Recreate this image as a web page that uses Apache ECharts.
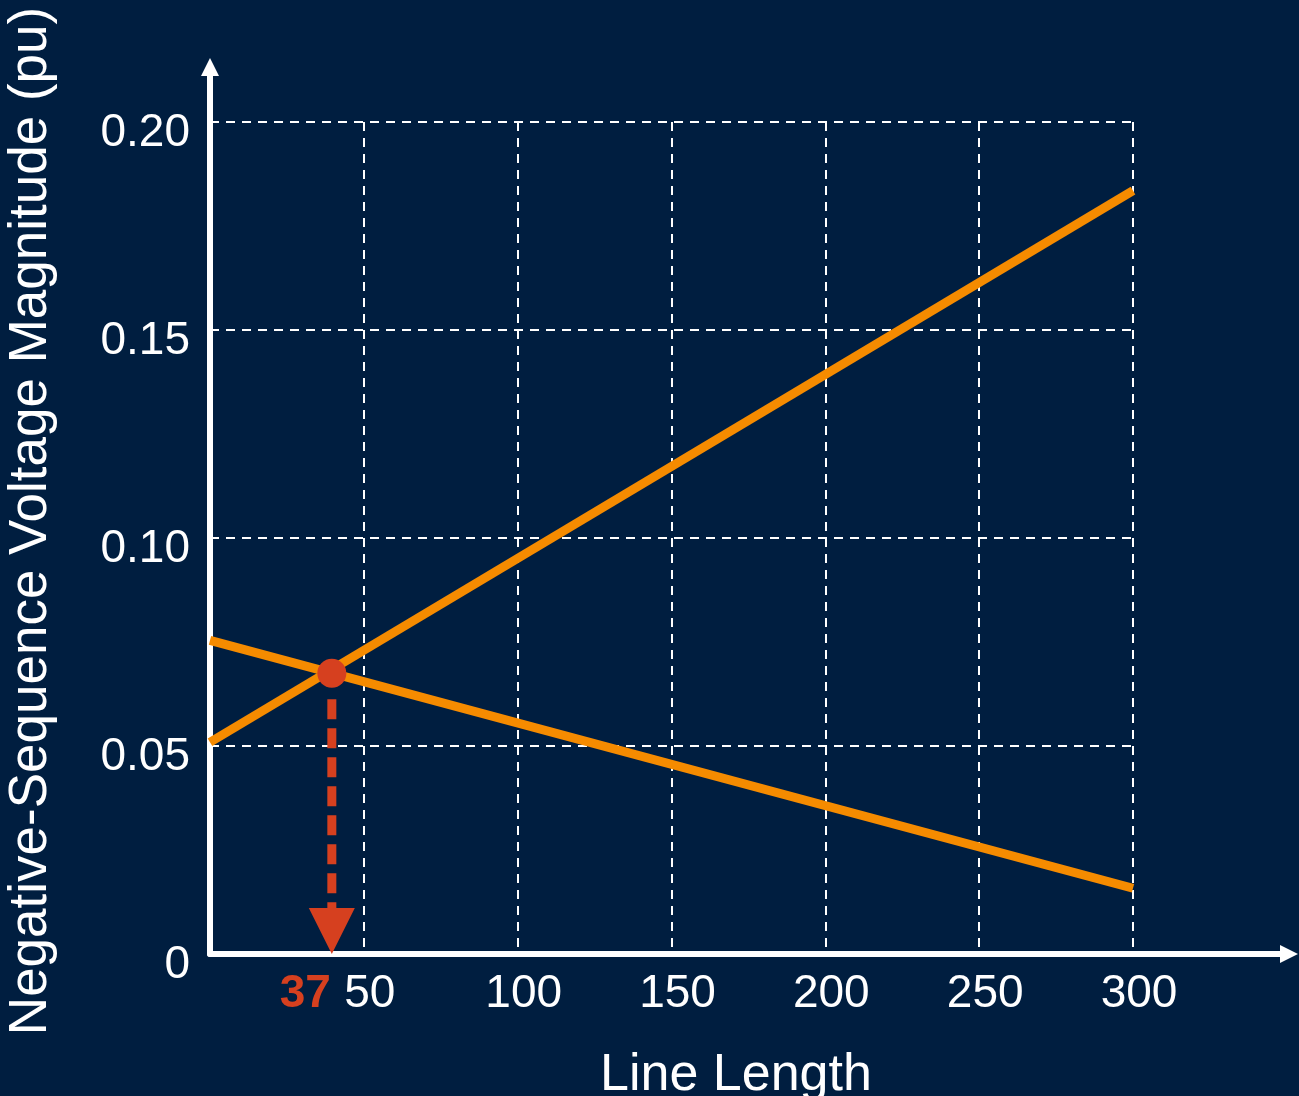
<!DOCTYPE html>
<html>
<head>
<meta charset="utf-8">
<script src="https://cdn.jsdelivr.net/npm/echarts@6/dist/echarts.min.js"></script>
<style>
  html, body { margin: 0; padding: 0; background: #001e40; }
  #chart { width: 1299px; height: 1096px; }
</style>
</head>
<body>
<div id="chart"></div>
<script>
// 数据
const lineLengths = [0, 300];
const risingVoltage = [0.0509, 0.1835];
const fallingVoltage = [0.0754, 0.0158];
const crossPoint = [39.6, 0.0675];
const crossLabel = "37";
const xTicks = [0, 50, 100, 150, 200, 250, 300];
const yTicks = [0, 0.05, 0.1, 0.15, 0.2];

const orange = "#f58b00";
const red = "#d6401f";
const font = "'Liberation Sans', Arial, sans-serif";

const chart = echarts.init(document.getElementById("chart"));

const option = {
  backgroundColor: "#001e40",
  animation: false,
  textStyle: { fontFamily: font },
  grid: [
    // 带箭头的坐标轴
    { left: 210, right: 10, top: 67, bottom: 142 },
    // 网格和数据
    { left: 210, right: 166, top: 122, bottom: 142 },
  ],
  xAxis: [
    {
      gridIndex: 0,
      type: "value",
      min: 0,
      max: 1,
      axisLine: {
        lineStyle: { color: "#fff", width: 6 },
        symbol: ["none", "triangle"],
        symbolSize: [18, 18],
      },
      axisTick: { show: false },
      axisLabel: { show: false },
      splitLine: { show: false },
    },
    {
      gridIndex: 1,
      type: "value",
      min: xTicks[0],
      max: xTicks[xTicks.length - 1],
      interval: 50,
      axisLine: { show: false },
      axisTick: { show: false },
      axisLabel: {
        color: "#fff",
        fontSize: 46,
        margin: 17,
        padding: [0, 0, 0, 12],
        formatter: (v) => (v === 0 ? "" : String(v)),
      },
      splitLine: {
        lineStyle: { color: "#fff", width: 2, type: [9, 7] },
      },
    },
  ],
  yAxis: [
    {
      gridIndex: 0,
      type: "value",
      min: 0,
      max: 1,
      axisLine: {
        show: true,
        lineStyle: { color: "#fff", width: 6 },
        symbol: ["none", "triangle"],
        symbolSize: [18, 18],
      },
      axisTick: { show: false },
      axisLabel: { show: false },
      splitLine: { show: false },
    },
    {
      gridIndex: 1,
      type: "value",
      min: yTicks[0],
      max: yTicks[yTicks.length - 1],
      interval: 0.05,
      axisLine: { show: false },
      axisTick: { show: false },
      axisLabel: {
        margin: 20,
        formatter: (v) => "{t|" + (v === 0 ? "0" : v.toFixed(2)) + "}",
        rich: {
          t: {
            color: "#fff",
            fontSize: 46,
            fontFamily: font,
            padding: [22, 0, 0, 0],
          },
        },
      },
      splitLine: {
        lineStyle: { color: "#fff", width: 2, type: [9, 7] },
      },
    },
  ],
  graphic: [
    {
      type: "text",
      x: 31,
      y: 521,
      rotation: Math.PI / 2,
      style: {
        text: "Negative-Sequence Voltage Magnitude (pu)",
        fill: "#fff",
        font: "53px " + font,
        align: "center",
        verticalAlign: "middle",
      },
    },
    {
      type: "text",
      x: 736,
      y: 1050,
      style: {
        text: "Line Length",
        fill: "#fff",
        font: "52px " + font,
        align: "center",
        verticalAlign: "top",
      },
    },
  ],
  series: [
    {
      type: "line",
      xAxisIndex: 1,
      yAxisIndex: 1,
      data: lineLengths.map((x, i) => [x, risingVoltage[i]]),
      symbol: "none",
      lineStyle: { color: orange, width: 9 },
      z: 3,
    },
    {
      type: "line",
      xAxisIndex: 1,
      yAxisIndex: 1,
      data: lineLengths.map((x, i) => [x, fallingVoltage[i]]),
      symbol: "none",
      lineStyle: { color: orange, width: 9 },
      z: 3,
    },
    {
      // 交点往下的虚线箭头和标签
      type: "custom",
      xAxisIndex: 1,
      yAxisIndex: 1,
      clip: false,
      z: 4,
      data: [crossPoint],
      renderItem: function (params, api) {
        const top = api.coord([api.value(0), api.value(1)]);
        const base = api.coord([api.value(0), 0]);
        const headW = 46;
        const headH = 46;
        return {
          type: "group",
          children: [
            {
              type: "line",
              shape: { x1: top[0], y1: top[1] + 26, x2: base[0], y2: base[1] - headH },
              style: { stroke: red, lineWidth: 9, lineDash: [20, 9] },
            },
            {
              type: "polygon",
              shape: {
                points: [
                  [base[0] - headW / 2, base[1] - headH],
                  [base[0] + headW / 2, base[1] - headH],
                  [base[0], base[1]],
                ],
              },
              style: { fill: red },
            },
            {
              type: "text",
              x: base[0] - 1,
              y: base[1] + 17,
              style: {
                text: crossLabel,
                fill: red,
                font: "bold 46px " + font,
                align: "right",
                verticalAlign: "top",
              },
            },
          ],
        };
      },
    },
    {
      type: "scatter",
      xAxisIndex: 1,
      yAxisIndex: 1,
      data: [crossPoint],
      symbolSize: 29,
      itemStyle: { color: red, opacity: 1 },
      z: 5,
    },
  ],
};

chart.setOption(option);
</script>
</body>
</html>
